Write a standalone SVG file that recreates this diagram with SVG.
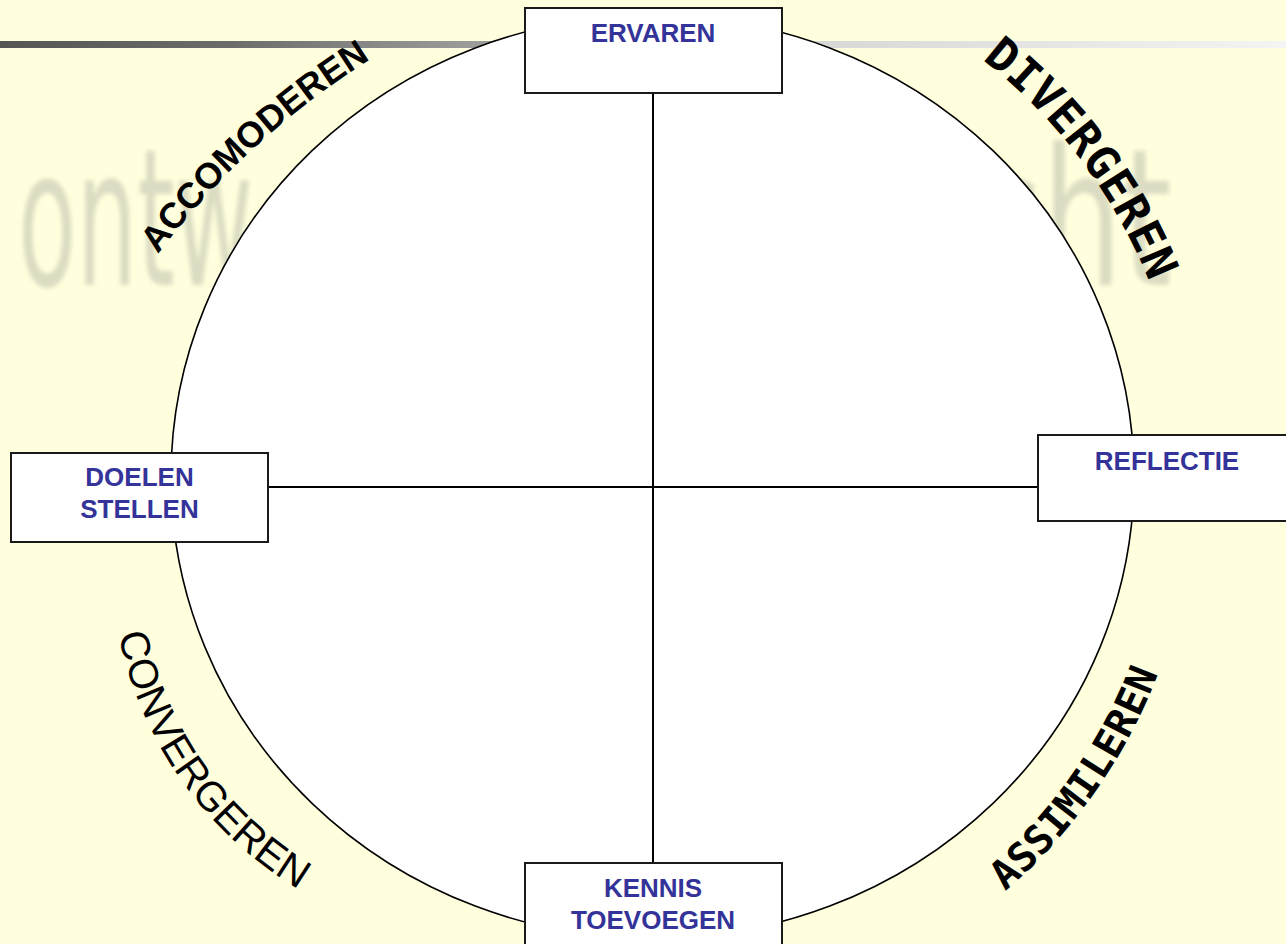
<svg xmlns="http://www.w3.org/2000/svg" xmlns:xlink="http://www.w3.org/1999/xlink" width="1286" height="944" viewBox="0 0 1286 944">
  <defs>
    <style>
      .box { fill: #ffffff; stroke: #1a1a1a; stroke-width: 2; }
      .nt { font-family: "Liberation Sans", Arial, sans-serif; font-weight: bold; font-size: 26px; fill: #333399; text-anchor: middle; }
      .arcA { font-family: "Liberation Sans", Arial, sans-serif; fill: #000000; }
      .arcM { font-family: "DejaVu Sans Mono", "Liberation Mono", monospace; font-weight: bold; fill: #000000; }
      .conn { stroke: #000000; stroke-width: 2; fill: none; }
      .wm { font-family: "DejaVu Sans", sans-serif; font-size: 190px; fill: #dcdcc3; }
    </style>
    <linearGradient id="barGrad" x1="0" y1="0" x2="1" y2="0">
      <stop offset="0" stop-color="#555555"/>
      <stop offset="0.18" stop-color="#6c6c6c"/>
      <stop offset="0.36" stop-color="#9a9a9a"/>
      <stop offset="0.62" stop-color="#d6d6d6"/>
      <stop offset="1" stop-color="#f4f4f4"/>
    </linearGradient>
    <filter id="soft" x="-10%" y="-10%" width="120%" height="120%">
      <feGaussianBlur stdDeviation="2"/>
    </filter>
    <path id="pAccom" d="M103.7,335.9 A796,796 0 0 1 456.7,12.5"/>
    <path id="pDiver" d="M904.5,9.1 A533,533 0 0 1 1176,370.7"/>
    <path id="pConv" d="M111,558 A386,386 0 0 0 368,922"/>
    <path id="pAssim" d="M922.6,949.8 A542,542 0 0 0 1185.2,575.4"/>
  </defs>

  <g id="background">
    <rect x="0" y="0" width="1286" height="944" fill="#ffffdd"/>
    <g filter="url(#soft)">
      <text class="wm" x="18" y="285" textLength="235" lengthAdjust="spacingAndGlyphs">ontw</text>
      <text class="wm" x="1172" y="285" text-anchor="end" textLength="200" lengthAdjust="spacingAndGlyphs">cht</text>
    </g>
    <rect x="0" y="41" width="1286" height="7" fill="url(#barGrad)"/>
  </g>

  <g id="cycle">
    <ellipse cx="652.5" cy="477" rx="481.5" ry="461.5" fill="#ffffff" stroke="#000000" stroke-width="1.6"/>
  </g>

  <g id="connectors">
    <line class="conn" x1="653" y1="93" x2="653" y2="863"/>
    <line class="conn" x1="268" y1="487" x2="1038" y2="487"/>
  </g>

  <g id="arc-labels">
    <text class="arcA" font-size="36" font-weight="bold"><textPath xlink:href="#pAccom" href="#pAccom" startOffset="50%" text-anchor="middle">ACCOMODEREN</textPath></text>
    <text class="arcM" font-size="46" letter-spacing="0.5"><textPath xlink:href="#pDiver" href="#pDiver" startOffset="50%" text-anchor="middle">DIVERGEREN</textPath></text>
    <text class="arcA" font-size="41"><textPath xlink:href="#pConv" href="#pConv" startOffset="50%" text-anchor="middle">CONVERGEREN</textPath></text>
    <text class="arcM" font-size="40" letter-spacing="0.4"><textPath xlink:href="#pAssim" href="#pAssim" startOffset="50%" text-anchor="middle">ASSIMILEREN</textPath></text>
  </g>

  <g id="node-ervaren">
    <rect class="box" x="525" y="8" width="257" height="85"/>
    <text class="nt" x="653" y="42">ERVAREN</text>
  </g>

  <g id="node-doelen-stellen">
    <rect class="box" x="11" y="453" width="257" height="89"/>
    <text class="nt" x="139.5" y="486">DOELEN</text>
    <text class="nt" x="139.5" y="518">STELLEN</text>
  </g>

  <g id="node-reflectie">
    <rect class="box" x="1038" y="435" width="260" height="86"/>
    <text class="nt" x="1167" y="470">REFLECTIE</text>
  </g>

  <g id="node-kennis-toevoegen">
    <rect class="box" x="525" y="863" width="257" height="95"/>
    <text class="nt" x="653" y="897">KENNIS</text>
    <text class="nt" x="653" y="929">TOEVOEGEN</text>
  </g>
</svg>
